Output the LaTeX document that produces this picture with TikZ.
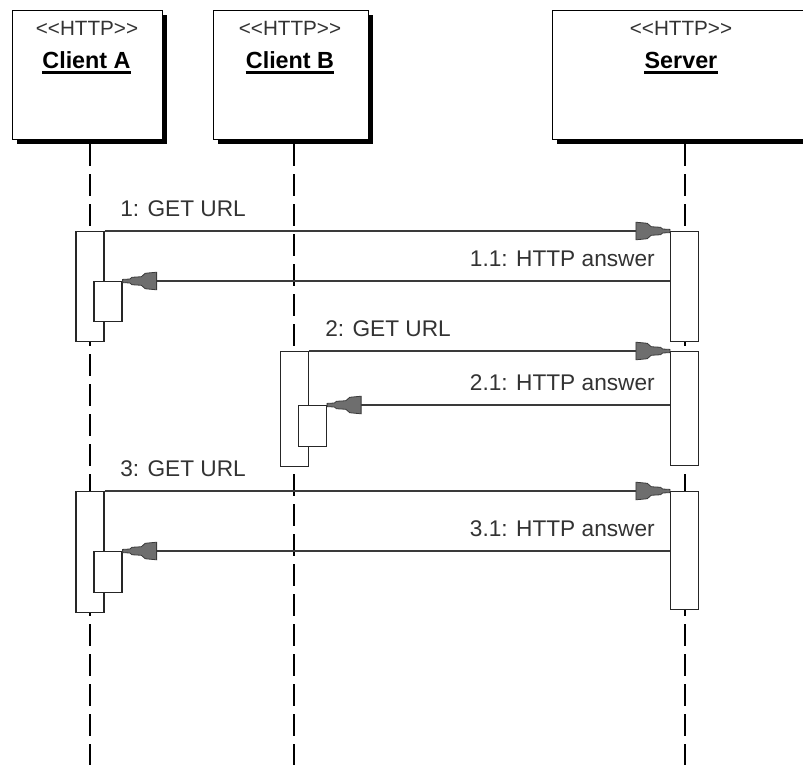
\documentclass[tikz,border=0pt]{standalone}
\usepackage{fontspec}
\setmainfont[Ligatures=NoCommon]{Liberation Sans}
\usetikzlibrary{arrows.meta,shadows}
\definecolor{arrowgray}{HTML}{6E6E6E}
\definecolor{linegray}{HTML}{3A3A3A}
\definecolor{textgray}{HTML}{333333}

\pgfdeclarearrow{
  name = Plug,
  setup code = {
    \pgfarrowssettipend{0pt}
    \pgfarrowssetbackend{-25.5pt}
    \pgfarrowssetlineend{-23pt}
    \pgfarrowshullpoint{0pt}{0pt}
    \pgfarrowshullpoint{-25.5pt}{7pt}
    \pgfarrowshullpoint{-25.5pt}{-7pt}
  },
  drawing code = {
    \pgfsetlinewidth{0.6pt}
    \pgfsetmiterjoin
    \pgfsetfillcolor{arrowgray}
    \pgfsetstrokecolor{linegray}
    \pgfpathmoveto{\pgfpoint{0pt}{1.2pt}}
    \pgfpathlineto{\pgfpoint{-5.5pt}{1.5pt}}
    \pgfpathlineto{\pgfpoint{-7pt}{2.8pt}}
    \pgfpathlineto{\pgfpoint{-14pt}{3.2pt}}
    \pgfpathlineto{\pgfpoint{-17pt}{5.8pt}}
    \pgfpathlineto{\pgfpoint{-25.5pt}{6.6pt}}
    \pgfpathlineto{\pgfpoint{-25.5pt}{-6.6pt}}
    \pgfpathlineto{\pgfpoint{-17pt}{-5.8pt}}
    \pgfpathlineto{\pgfpoint{-14pt}{-3.2pt}}
    \pgfpathlineto{\pgfpoint{-7pt}{-2.8pt}}
    \pgfpathlineto{\pgfpoint{-5.5pt}{-1.5pt}}
    \pgfpathlineto{\pgfpoint{0pt}{-1.2pt}}
    \pgfpathclose
    \pgfusepathqfillstroke
  }
}

\tikzset{
  participant/.style={draw=black, line width=1.1pt, fill=white, rectangle,
    inner sep=0pt, anchor=north west, minimum height=96.75pt,
    drop shadow={shadow xshift=3pt, shadow yshift=-3.4pt, fill=black, opacity=1}},
  stereo/.style={inner sep=0pt, anchor=base, text=textgray,
    font=\fontsize{15.5}{19}\selectfont},
  pname/.style={inner sep=0pt, anchor=base, text=black,
    font=\fontsize{17.5}{20}\selectfont\bfseries},
  uline/.style={line width=2pt, black},
  lifeline/.style={draw=black, line width=1.1pt, dash pattern=on 16.5pt off 6pt},
  act/.style={draw=black!85, line width=0.9pt, fill=white, rectangle,
    inner sep=0pt, anchor=north, minimum width=21pt},
  msg/.style={draw=linegray, line width=0.9pt, -Plug},
  mlabel/.style={inner sep=0pt, text=textgray,
    font=\fontsize{17}{20}\selectfont},
}

\begin{document}
\begin{tikzpicture}[x=0.75pt, y=-0.75pt]
  \clip (0,0) rectangle (803,765);
  \fill[white] (0,0) rectangle (803,765);

  % lifeline end points
  \coordinate (lAs) at (90,144);   \coordinate (lAe) at (90,765);
  \coordinate (lBs) at (294,144);  \coordinate (lBe) at (294,765);
  \coordinate (lSs) at (685,144);  \coordinate (lSe) at (685,765);
  \draw[lifeline] (lAs) -- (lAe);
  \draw[lifeline] (lBs) -- (lBe);
  \draw[lifeline] (lSs) -- (lSe);

  % participants
  \node[participant, minimum width=112.5pt] (cA) at (12,10) {};
  \node[participant, minimum width=116.25pt] (cB) at (213,10) {};
  \node[participant, minimum width=196.5pt] (srv) at (552,10) {};

  \node[stereo] (stA) at (87,35) {{<}{<}HTTP{>}{>}};
  \node[stereo] (stB) at (290,35) {{<}{<}HTTP{>}{>}};
  \node[stereo] (stS) at (681,35) {{<}{<}HTTP{>}{>}};

  \node[pname] (nA) at (86.5,68) {Client A};
  \node[pname] (nB) at (290,68) {Client B};
  \node[pname] (nS) at (681,68) {Server};
  \draw[uline] ([yshift=-3.4pt]nA.base west) -- ([yshift=-3.4pt]nA.base east);
  \draw[uline] ([yshift=-3.4pt]nB.base west) -- ([yshift=-3.4pt]nB.base east);
  \draw[uline] ([yshift=-3.4pt]nS.base west) -- ([yshift=-3.4pt]nS.base east);

  % activation bars
  \node[act, minimum height=82.5pt] (A1) at (90,231) {};
  \node[act, minimum height=30pt] (A1n) at (108,281) {};
  \node[act, minimum height=82.5pt] (S1) at (684.5,231) {};

  \node[act, minimum height=86.25pt] (B2) at (294.5,351) {};
  \node[act, minimum height=30.75pt] (B2n) at (312.5,405) {};
  \node[act, minimum height=85.5pt] (S2) at (684.5,351) {};

  \node[act, minimum height=90.75pt] (A3) at (90,491) {};
  \node[act, minimum height=30.75pt] (A3n) at (108,551) {};
  \node[act, minimum height=88.5pt] (S3) at (684.5,491) {};

  % messages
  \draw[msg] (A1.north east) -- (S1.north west);
  \draw[msg] (S1.west |- A1n.north) -- (A1n.north east);
  \draw[msg] (B2.north east) -- (S2.north west);
  \draw[msg] (S2.west |- B2n.north) -- (B2n.north east);
  \draw[msg] (A3.north east) -- (S3.north west);
  \draw[msg] (S3.west |- A3n.north) -- (A3n.north east);

  % labels
  \node[mlabel, anchor=base west] (L1) at (120,216) {1: GET URL};
  \node[mlabel, anchor=base east] (L11) at (655,266) {1.1: HTTP answer};
  \node[mlabel, anchor=base west] (L2) at (325,336) {2: GET URL};
  \node[mlabel, anchor=base east] (L21) at (655,390) {2.1: HTTP answer};
  \node[mlabel, anchor=base west] (L3) at (120,476) {3: GET URL};
  \node[mlabel, anchor=base east] (L31) at (655,536) {3.1: HTTP answer};
\end{tikzpicture}
\end{document}
